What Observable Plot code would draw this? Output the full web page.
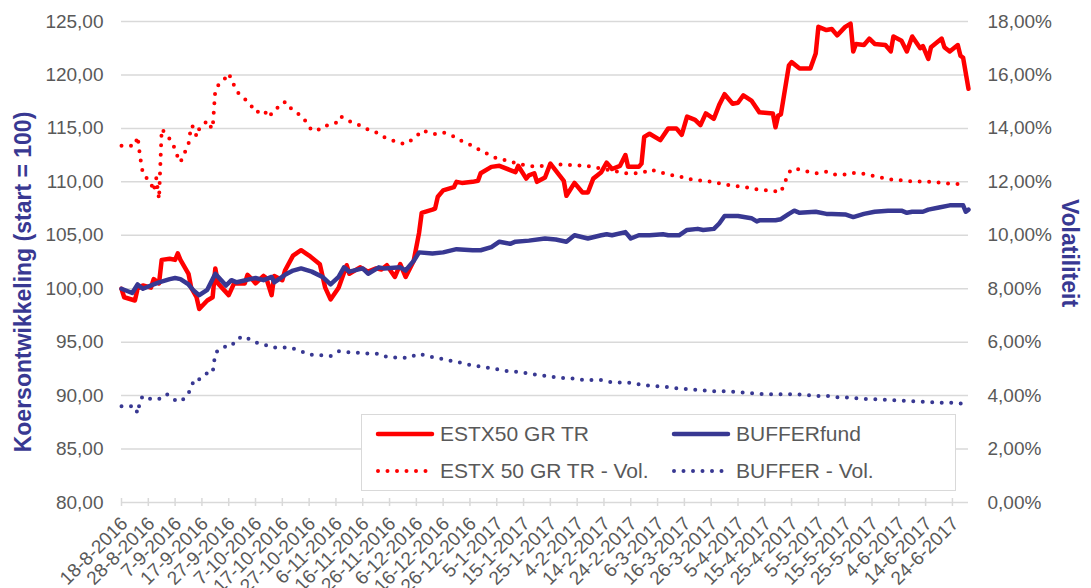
<!DOCTYPE html>
<html><head><meta charset="utf-8">
<script src="https://cdn.jsdelivr.net/npm/d3@7"></script>
<script src="https://cdn.jsdelivr.net/npm/@observablehq/plot@0.6"></script>
<style>
body{margin:0;background:#fff;}
#wrap{position:relative;width:1091px;height:588px;overflow:hidden;font-family:"Liberation Sans",Arial,sans-serif;}
#legend{position:absolute;left:361px;top:414px;width:595px;height:77px;box-sizing:border-box;border:1.5px solid #d9d9d9;background:#fff;}
.item{position:absolute;display:flex;align-items:center;height:24px;font-size:21px;color:#595959;white-space:nowrap;}
.item svg{margin-right:5px;}
</style></head><body><div id="wrap"><div id="chart"></div><div id="legend"></div></div>
<script>
// ---------- DATA ----------
const xTickLabels = ["18-8-2016","28-8-2016","7-9-2016","17-9-2016","27-9-2016","7-10-2016","17-10-2016","27-10-2016","6-11-2016","16-11-2016","26-11-2016","6-12-2016","16-12-2016","26-12-2016","5-1-2017","15-1-2017","25-1-2017","4-2-2017","14-2-2017","24-2-2017","6-3-2017","16-3-2017","26-3-2017","5-4-2017","15-4-2017","25-4-2017","5-5-2017","15-5-2017","25-5-2017","4-6-2017","14-6-2017","24-6-2017"];
const leftTicks = [80,85,90,95,100,105,110,115,120,125];
const volTicks = [0,2,4,6,8,10,12,14,16,18];

const seriesNames = ["ESTX50 GR TR","BUFFERfund","ESTX 50 GR TR - Vol.","BUFFER - Vol."];

const estxDates = ["2016-08-18","2016-08-19","2016-08-23","2016-08-24","2016-08-26","2016-08-29","2016-08-30","2016-09-01","2016-09-02","2016-09-05","2016-09-07","2016-09-08","2016-09-09","2016-09-12","2016-09-13","2016-09-15","2016-09-16","2016-09-19","2016-09-21","2016-09-22","2016-09-23","2016-09-27","2016-09-29","2016-10-03","2016-10-04","2016-10-06","2016-10-07","2016-10-10","2016-10-11","2016-10-13","2016-10-14","2016-10-17","2016-10-18","2016-10-21","2016-10-24","2016-10-27","2016-10-31","2016-11-02","2016-11-04","2016-11-07","2016-11-10","2016-11-11","2016-11-15","2016-11-18","2016-11-21","2016-11-23","2016-11-25","2016-11-28","2016-11-30","2016-12-02","2016-12-05","2016-12-07","2016-12-08","2016-12-12","2016-12-13","2016-12-14","2016-12-16","2016-12-20","2016-12-21","2016-12-23","2016-12-27","2016-12-29","2016-12-30","2017-01-03","2017-01-06","2017-01-10","2017-01-12","2017-01-13","2017-01-16","2017-01-17","2017-01-19","2017-01-20","2017-01-23","2017-01-25","2017-01-30","2017-01-31","2017-02-03","2017-02-06","2017-02-08","2017-02-10","2017-02-13","2017-02-15","2017-02-17","2017-02-20","2017-02-22","2017-02-23","2017-02-27","2017-02-28","2017-03-01","2017-03-03","2017-03-07","2017-03-10","2017-03-13","2017-03-15","2017-03-17","2017-03-20","2017-03-22","2017-03-24","2017-03-27","2017-03-29","2017-03-31","2017-04-03","2017-04-05","2017-04-07","2017-04-10","2017-04-13","2017-04-18","2017-04-19","2017-04-20","2017-04-21","2017-04-24","2017-04-25","2017-04-28","2017-05-02","2017-05-04","2017-05-05","2017-05-08","2017-05-10","2017-05-12","2017-05-15","2017-05-17","2017-05-18","2017-05-19","2017-05-22","2017-05-24","2017-05-26","2017-05-30","2017-06-01","2017-06-02","2017-06-05","2017-06-07","2017-06-09","2017-06-12","2017-06-13","2017-06-15","2017-06-16","2017-06-20","2017-06-21","2017-06-23","2017-06-26","2017-06-27","2017-06-28","2017-06-30"];
const estxValues = [100.0,99.2,98.9,100.0,100.3,100.1,100.9,100.5,102.7,102.8,102.7,103.3,102.7,101.4,100.1,99.2,98.1,98.9,99.2,101.9,100.5,99.4,100.5,100.5,101.3,100.8,100.5,101.2,101.0,99.4,101.2,100.8,101.7,103.1,103.6,103.1,102.3,100.1,99.0,100.1,102.2,101.4,102.0,101.6,101.9,101.8,102.2,101.1,102.3,101.1,102.6,105.2,107.1,107.4,107.5,108.6,109.2,109.5,110.0,109.9,110.0,110.1,110.8,111.4,111.5,111.1,110.9,111.5,110.3,110.6,110.8,110.0,110.4,111.7,110.1,108.7,109.9,109.0,109.0,110.3,110.9,111.8,111.2,111.5,112.5,111.4,111.4,111.7,114.2,114.5,113.9,115.0,115.0,114.4,116.1,115.8,115.3,116.4,115.9,117.2,118.2,117.3,117.4,118.1,117.6,116.5,116.4,115.1,116.2,116.3,120.9,121.2,120.6,120.6,122.0,124.5,124.2,124.3,123.7,124.5,124.8,122.2,122.9,122.8,123.4,122.9,122.8,122.2,123.6,123.2,122.2,123.6,122.5,122.7,121.5,122.6,123.4,122.6,122.2,122.8,121.8,121.6,118.7];

const bufferDates = ["2016-08-18","2016-08-22","2016-08-24","2016-08-26","2016-08-30","2016-09-01","2016-09-05","2016-09-07","2016-09-09","2016-09-12","2016-09-14","2016-09-16","2016-09-19","2016-09-22","2016-09-26","2016-09-28","2016-09-30","2016-10-05","2016-10-07","2016-10-10","2016-10-13","2016-10-14","2016-10-18","2016-10-21","2016-10-24","2016-10-28","2016-11-01","2016-11-04","2016-11-07","2016-11-09","2016-11-11","2016-11-16","2016-11-18","2016-11-22","2016-11-24","2016-11-30","2016-12-02","2016-12-05","2016-12-07","2016-12-12","2016-12-16","2016-12-21","2016-12-27","2016-12-30","2017-01-03","2017-01-06","2017-01-10","2017-01-12","2017-01-17","2017-01-23","2017-01-27","2017-01-31","2017-02-03","2017-02-08","2017-02-13","2017-02-15","2017-02-17","2017-02-22","2017-02-24","2017-02-27","2017-03-03","2017-03-08","2017-03-10","2017-03-14","2017-03-17","2017-03-21","2017-03-23","2017-03-27","2017-03-29","2017-03-31","2017-04-05","2017-04-10","2017-04-12","2017-04-13","2017-04-19","2017-04-21","2017-04-24","2017-04-26","2017-04-28","2017-05-04","2017-05-08","2017-05-10","2017-05-15","2017-05-18","2017-05-22","2017-05-26","2017-05-31","2017-06-05","2017-06-07","2017-06-09","2017-06-13","2017-06-15","2017-06-19","2017-06-23","2017-06-28","2017-06-29","2017-06-30"];
const bufferValues = [100.0,99.6,100.4,100.0,100.4,100.6,100.9,101.0,100.9,100.4,99.8,99.4,99.9,101.4,100.3,100.8,100.6,100.9,101.0,100.8,101.1,100.6,101.3,101.7,101.9,101.6,101.1,100.4,101.1,102.0,101.6,101.9,101.4,102.0,101.9,102.0,101.7,102.6,103.4,103.3,103.4,103.7,103.6,103.6,103.9,104.4,104.2,104.4,104.5,104.7,104.6,104.4,105.0,104.7,105.0,105.1,105.0,105.3,104.7,105.0,105.0,105.1,105.0,105.0,105.5,105.6,105.5,105.6,106.1,106.8,106.8,106.6,106.3,106.4,106.4,106.5,107.0,107.3,107.1,107.2,107.0,107.0,106.95,106.7,107.0,107.2,107.3,107.3,107.1,107.2,107.2,107.4,107.6,107.8,107.8,107.2,107.4];

const estxVolDates = ["2016-08-18","2016-08-23","2016-08-24","2016-08-25","2016-08-26","2016-08-29","2016-08-30","2016-08-31","2016-09-01","2016-09-02","2016-09-05","2016-09-07","2016-09-08","2016-09-09","2016-09-12","2016-09-13","2016-09-14","2016-09-15","2016-09-16","2016-09-19","2016-09-20","2016-09-21","2016-09-22","2016-09-23","2016-09-26","2016-09-27","2016-09-30","2016-10-03","2016-10-05","2016-10-07","2016-10-10","2016-10-12","2016-10-14","2016-10-17","2016-10-18","2016-10-21","2016-10-24","2016-10-26","2016-10-28","2016-11-01","2016-11-03","2016-11-07","2016-11-08","2016-11-10","2016-11-14","2016-11-17","2016-11-21","2016-11-24","2016-11-28","2016-11-30","2016-12-02","2016-12-06","2016-12-08","2016-12-13","2016-12-16","2016-12-20","2016-12-23","2016-12-27","2016-12-30","2017-01-02","2017-01-05","2017-01-09","2017-01-12","2017-01-16","2017-01-19","2017-01-23","2017-01-26","2017-01-31","2017-02-03","2017-02-07","2017-02-10","2017-02-14","2017-02-17","2017-02-22","2017-02-24","2017-03-01","2017-03-03","2017-03-07","2017-03-10","2017-03-14","2017-03-17","2017-03-22","2017-03-27","2017-03-30","2017-04-03","2017-04-06","2017-04-10","2017-04-13","2017-04-18","2017-04-21","2017-04-24","2017-04-26","2017-04-30","2017-05-04","2017-05-08","2017-05-11","2017-05-15","2017-05-18","2017-05-22","2017-05-26","2017-05-30","2017-06-02","2017-06-06","2017-06-09","2017-06-14","2017-06-17","2017-06-21","2017-06-25","2017-06-29"];
const estxVolValues = [13.35,13.35,13.7,12.9,12.3,11.95,11.65,12.15,11.35,13.98,13.6,13.23,12.92,12.73,13.42,14.1,14.04,13.69,13.98,14.29,14.1,13.98,15.45,15.6,15.91,16.06,15.38,15.1,14.91,14.6,14.69,14.41,14.72,14.85,15.0,14.66,14.48,14.23,13.92,13.98,14.14,14.23,14.44,14.31,14.16,14.0,13.85,13.67,13.52,13.45,13.42,13.69,13.92,13.79,13.85,13.7,13.52,13.35,13.17,13.02,12.88,12.79,12.7,12.61,12.57,12.6,12.67,12.64,12.61,12.61,12.55,12.48,12.42,12.32,12.3,12.36,12.46,12.36,12.27,12.21,12.11,12.05,11.99,11.92,11.86,11.82,11.76,11.7,11.67,11.61,12.36,12.51,12.4,12.32,12.38,12.27,12.27,12.33,12.3,12.21,12.13,12.07,12.05,12.01,12.02,11.99,11.95,11.92,11.92];

const bufferVolDates = ["2016-08-18","2016-08-23","2016-08-24","2016-08-25","2016-08-26","2016-08-28","2016-09-01","2016-09-02","2016-09-04","2016-09-07","2016-09-09","2016-09-11","2016-09-13","2016-09-14","2016-09-16","2016-09-19","2016-09-21","2016-09-22","2016-09-25","2016-09-28","2016-09-30","2016-10-03","2016-10-06","2016-10-10","2016-10-13","2016-10-17","2016-10-20","2016-10-24","2016-10-27","2016-10-31","2016-11-04","2016-11-07","2016-11-10","2016-11-14","2016-11-18","2016-11-22","2016-11-25","2016-11-29","2016-12-03","2016-12-07","2016-12-10","2016-12-14","2016-12-18","2016-12-22","2016-12-25","2016-12-29","2017-01-02","2017-01-06","2017-01-09","2017-01-13","2017-01-17","2017-01-21","2017-01-25","2017-01-28","2017-02-01","2017-02-05","2017-02-09","2017-02-13","2017-02-16","2017-02-21","2017-02-24","2017-02-28","2017-03-04","2017-03-07","2017-03-11","2017-03-15","2017-03-19","2017-03-23","2017-03-27","2017-03-31","2017-04-04","2017-04-08","2017-04-11","2017-04-15","2017-04-19","2017-04-23","2017-04-27","2017-05-01","2017-05-05","2017-05-09","2017-05-13","2017-05-17","2017-05-20","2017-05-24","2017-05-28","2017-06-01","2017-06-05","2017-06-09","2017-06-13","2017-06-16","2017-06-20","2017-06-24","2017-06-28"];
const bufferVolValues = [3.6,3.6,3.33,3.83,3.99,3.89,3.87,3.99,4.05,3.83,3.77,3.95,4.26,4.61,4.61,4.85,4.85,5.6,5.82,5.85,6.13,6.22,6.01,5.92,5.8,5.8,5.8,5.66,5.53,5.51,5.48,5.66,5.63,5.61,5.57,5.57,5.45,5.42,5.41,5.57,5.48,5.41,5.32,5.24,5.17,5.1,5.04,4.97,4.92,4.89,4.82,4.76,4.72,4.66,4.66,4.6,4.58,4.58,4.51,4.48,4.48,4.41,4.35,4.35,4.3,4.26,4.23,4.2,4.16,4.16,4.14,4.11,4.08,4.05,4.05,4.05,4.05,4.02,3.99,3.98,3.93,3.93,3.89,3.87,3.86,3.83,3.81,3.79,3.77,3.75,3.73,3.73,3.7];

// ---------- STYLE ----------
const RED = "#ff0000", BLUE = "#383892", GREY = "#595959", GRID = "#d9d9d9";

// ---------- HELPERS ----------
const parseDMY = s => { const [d, m, y] = s.split("-").map(Number); return new Date(Date.UTC(y, m - 1, d)); };
const fmtNum = v => v.toFixed(2).replace(".", ",");
// right axis (volatility %) is mapped onto the left scale: 0% ↔ 80, 18% ↔ 125
const volToLeft = p => 80 + p / 0.4;
const leftToVol = v => (v - 80) * 0.4;

const mk = (dates, values, f = v => v) => dates.map((d, i) => ({date: new Date(d), value: f(values[i])}));
const estx = mk(estxDates, estxValues);
const buffer = mk(bufferDates, bufferValues);
const estxVol = mk(estxVolDates, estxVolValues, volToLeft);
const bufferVol = mk(bufferVolDates, bufferVolValues, volToLeft);
const xTicks = xTickLabels.map(parseDMY);
const labelByTime = new Map(xTicks.map((d, i) => [+d, xTickLabels[i]]));

const chart = Plot.plot({
  width: 1091, height: 588,
  marginLeft: 121, marginRight: 123, marginTop: 21, marginBottom: 86,
  style: {fontFamily: "'Liberation Sans', Arial, sans-serif", background: "white", overflow: "visible"},
  x: {type: "utc", domain: [new Date(estxDates[0]), new Date(estxDates[estxDates.length - 1])]},
  y: {domain: [80, 125]},
  marks: [
    Plot.gridY(leftTicks, {stroke: GRID, strokeOpacity: 1, strokeWidth: 1.5}),
    Plot.axisX(xTicks, {tickSize: 8, dy: -4, stroke: GRID, strokeWidth: 1.5, fill: "none", label: null, tickFormat: () => ""}),
    Plot.axisX(xTicks, {tickSize: 0, tickPadding: 18, dx: 3, tickRotate: -45, fontSize: 19, fill: GREY, label: null,
      tickFormat: d => labelByTime.get(+d)}),
    Plot.axisY(leftTicks, {anchor: "left", tickSize: 0, tickPadding: 18, fontSize: 19, fill: GREY, label: null, tickFormat: fmtNum}),
    Plot.axisY(volTicks.map(volToLeft), {anchor: "right", tickSize: 0, tickPadding: 19, fontSize: 19, fill: GREY, label: null,
      tickFormat: v => fmtNum(leftToVol(v)) + "%"}),
    Plot.line(estxVol, {x: "date", y: "value", stroke: RED, strokeWidth: 4, strokeDasharray: "0 9.5", strokeLinecap: "round"}),
    Plot.line(bufferVol, {x: "date", y: "value", stroke: BLUE, strokeWidth: 4, strokeDasharray: "0 9.5", strokeLinecap: "round"}),
    Plot.line(estx, {x: "date", y: "value", stroke: RED, strokeWidth: 4.5, strokeLinejoin: "round", strokeLinecap: "round"}),
    Plot.line(buffer, {x: "date", y: "value", stroke: BLUE, strokeWidth: 4.5, strokeLinejoin: "round", strokeLinecap: "round"}),
    Plot.text(["Koersontwikkeling (start = 100)"], {frameAnchor: "left", textAnchor: "middle", dx: -98, dy: 20, rotate: -90, fontSize: 23, fontWeight: "bold", fill: BLUE}),
    Plot.text(["Volatiliteit"], {frameAnchor: "right", textAnchor: "middle", dx: 101, dy: -9, rotate: 90, fontSize: 23, fontWeight: "bold", fill: BLUE})
  ]
});
document.getElementById("chart").appendChild(chart);

// ---------- LEGEND (inside the plot area, as in the reference) ----------
const legendItems = [
  {name: seriesNames[0], color: RED, dash: null, left: 13, top: 7},
  {name: seriesNames[1], color: BLUE, dash: null, left: 309, top: 7},
  {name: seriesNames[2], color: RED, dash: "0 9.5", left: 13, top: 44},
  {name: seriesNames[3], color: BLUE, dash: "0 9.5", left: 309, top: 44}
];
const legend = document.getElementById("legend");
for (const it of legendItems) {
  const div = document.createElement("div");
  div.className = "item";
  div.style.left = it.left + "px";
  div.style.top = it.top + "px";
  div.innerHTML = `<svg width="60" height="10"><line x1="3" x2="57" y1="5" y2="5" stroke="${it.color}" stroke-width="${it.dash ? 4 : 4.5}" stroke-linecap="round"${it.dash ? ` stroke-dasharray="${it.dash}"` : ""}/></svg><span>${it.name}</span>`;
  legend.appendChild(div);
}
</script></body></html>
